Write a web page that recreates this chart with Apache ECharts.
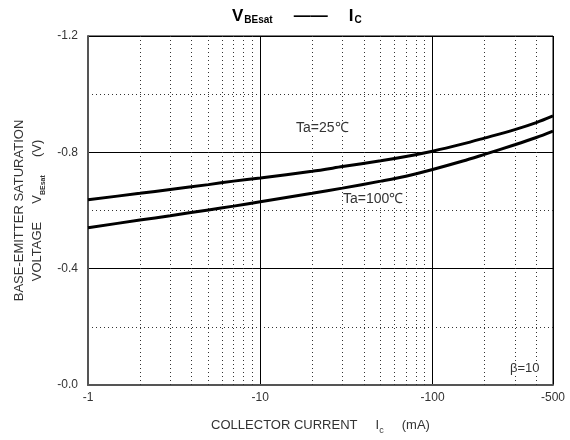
<!DOCTYPE html>
<html><head><meta charset="utf-8">
<script src="https://cdn.jsdelivr.net/npm/echarts@6/dist/echarts.min.js"></script>
<style>html,body{margin:0;padding:0;background:#fff}#c{width:570px;height:440px}</style>
</head><body><div id="c"></div>
<script>
const currents = [1, 2, 3, 5, 7, 10, 20, 30, 50, 70, 100, 150, 200, 300, 400, 500];
const vbe25 = [0.637, 0.659, 0.672, 0.689, 0.701, 0.712, 0.735, 0.751, 0.771, 0.786, 0.804, 0.829, 0.849, 0.878, 0.902, 0.925];
const vbe100 = [0.541, 0.567, 0.582, 0.602, 0.615, 0.630, 0.659, 0.677, 0.701, 0.718, 0.741, 0.770, 0.793, 0.826, 0.851, 0.873];
const xTickLabels = [1, 10, 100, 500];
const xMinorGrid = [2, 3, 4, 5, 6, 7, 8, 9, 20, 30, 40, 50, 60, 70, 80, 90, 200, 300, 400];
const yTicks = [0, 0.4, 0.8, 1.2];

const font = 'Liberation Sans, Arial, sans-serif';
const chart = echarts.init(document.getElementById('c'), null, {renderer: 'canvas'});
chart.setOption({
  animation: false,
  backgroundColor: '#fff',
  title: {
    text: 'V{sub|BEsat}{gap|}{dash|——}{gap|}I{sub|C}',
    left: 227, top: 2,
    textStyle: {
      fontFamily: font, fontSize: 17, fontWeight: 'bold', color: '#000',
      rich: {
        sub: {fontSize: 10, fontWeight: 'bold', verticalAlign: 'bottom', padding: [8, 0, 0, 1], fontFamily: font},
        dash: {fontSize: 17, fontWeight: 'bold', fontFamily: font},
        gap: {width: 21}
      }
    }
  },
  grid: {left: 88, right: 17, top: 36, bottom: 54, show: true, borderColor: '#000', borderWidth: 1},
  xAxis: {
    type: 'log', logBase: 10, min: 1, max: 500,
    name: 'COLLECTOR CURRENT     I{sub|c}     (mA)',
    nameLocation: 'middle', nameGap: 30,
    nameTextStyle: {fontFamily: font, fontSize: 13, color: '#333', rich: {sub: {fontSize: 9, color: '#333', verticalAlign: 'bottom', padding: [11, 0, 0, 0], fontFamily: font}}},
    axisLine: {show: true, lineStyle: {color: '#555', width: 2}},
    axisTick: {show: false},
    axisLabel: {
      customValues: xTickLabels,
      fontFamily: font, fontSize: 12, color: '#333', margin: 7,
      formatter: v => '-' + Math.round(v)
    },
    splitLine: {show: true, lineStyle: {color: '#000', width: 1}}
  },
  yAxis: {
    type: 'value', min: 0, max: 1.2, interval: 0.4,
    name: 'BASE-EMITTER SATURATION\nVOLTAGE     V{sub|BEsat}     (V)',
    nameLocation: 'middle', nameGap: 41, nameRotate: 90,
    nameTextStyle: {fontFamily: font, fontSize: 13, color: '#333', lineHeight: 18, align: 'center',
      rich: {sub: {fontSize: 7, color: '#333', fontWeight: 'bold', verticalAlign: 'bottom', padding: [6, 0, 0, 0], fontFamily: font}}},
    axisLine: {show: true, lineStyle: {color: '#555', width: 2}},
    axisTick: {show: false},
    axisLabel: {fontFamily: font, fontSize: 12, color: '#333', margin: 10,
      formatter: v => yTicks.some(t => Math.abs(t - v) < 1e-6) ? '-' + v.toFixed(1) : ''},
    splitLine: {show: true, lineStyle: {color: '#000', width: 1}},
    minorTick: {show: false, splitNumber: 2},
    minorSplitLine: {show: true, lineStyle: {color: '#333', width: 1, type: [1, 3]}}
  },
  series: [
    {
      type: 'line', name: 'Ta=25', smooth: 0.3, symbol: 'none',
      data: currents.map((c, i) => [c, vbe25[i]]),
      lineStyle: {color: '#000', width: 3},
      z: 5,
      markLine: {
        silent: true, symbol: 'none', label: {show: false},
        lineStyle: {color: '#333', width: 1, type: [1, 3]},
        data: xMinorGrid.map(v => ({xAxis: v}))
      }
    },
    {
      type: 'line', name: 'Ta=100', smooth: 0.3, symbol: 'none',
      data: currents.map((c, i) => [c, vbe100[i]]),
      lineStyle: {color: '#000', width: 3},
      z: 5
    }
  ],
  graphic: [
    {type: 'text', left: 296, top: 121, z: 10, style: {text: 'Ta=25℃', font: '14px ' + font, fill: '#333', backgroundColor: '#fff'}},
    {type: 'text', left: 343, top: 192, z: 10, style: {text: 'Ta=100℃', font: '14px ' + font, fill: '#333', backgroundColor: '#fff'}},
    {type: 'text', left: 510, top: 362, z: 10, style: {text: 'β=10', font: '13px ' + font, fill: '#333', backgroundColor: '#fff'}}
  ]
});
</script></body></html>
